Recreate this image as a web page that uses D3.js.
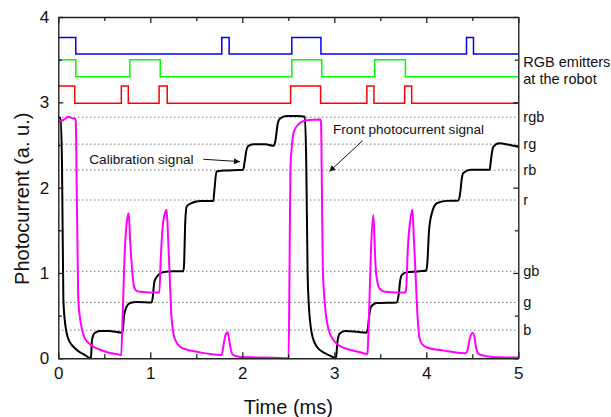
<!DOCTYPE html>
<html>
<head>
<meta charset="utf-8">
<script src="https://cdn.jsdelivr.net/npm/d3@7"></script>
<style>
body { margin: 0; background: #fff; }
text { font-family: "Liberation Sans", Arial, sans-serif; fill: #111; }
</style>
</head>
<body>
<script>
// calibration signal (black): [time ms, photocurrent]
var calibration = [
  [0, 2.82], [0.025, 2.82], [0.04, 2.3], [0.055, 0.7], [0.07, 0.45], [0.09, 0.3], [0.12, 0.2],
  [0.163, 0.136], [0.21, 0.09], [0.254, 0.059], [0.3, 0.03], [0.326, 0.012], [0.345, 0.0],
  [0.356, 0.02], [0.365, 0.2], [0.38, 0.27], [0.4, 0.3], [0.45, 0.32], [0.55, 0.32], [0.69, 0.3],
  [0.7, 0.32], [0.715, 0.5], [0.743, 0.605], [0.78, 0.648], [0.85, 0.66], [1.015, 0.655],
  [1.025, 0.7], [1.045, 0.9], [1.088, 0.977], [1.142, 1.01], [1.25, 1.02], [1.36, 1.02],
  [1.367, 1.1], [1.38, 1.6], [1.396, 1.78], [1.45, 1.82], [1.55, 1.845], [1.685, 1.845],
  [1.695, 1.95], [1.72, 2.19], [1.79, 2.2], [2.01, 2.21], [2.025, 2.3], [2.045, 2.44],
  [2.066, 2.49], [2.12, 2.51], [2.25, 2.51], [2.34, 2.49], [2.36, 2.55], [2.385, 2.75],
  [2.41, 2.81], [2.48, 2.84], [2.6, 2.84], [2.68, 2.83], [2.695, 2.3], [2.71, 1.0],
  [2.72, 0.683], [2.755, 0.293], [2.81, 0.136], [2.9, 0.059], [2.99, 0.012], [3.01, 0],
  [3.02, 0.02], [3.035, 0.2], [3.06, 0.29], [3.12, 0.32], [3.25, 0.31], [3.35, 0.3],
  [3.365, 0.35], [3.38, 0.5], [3.4, 0.605], [3.46, 0.648], [3.68, 0.655], [3.7, 0.75],
  [3.715, 0.9], [3.735, 0.977], [3.79, 1.01], [3.93, 1.02], [4.0, 1.03], [4.01, 1.1],
  [4.03, 1.5], [4.06, 1.7], [4.115, 1.817], [4.22, 1.845], [4.35, 1.85], [4.37, 1.95],
  [4.385, 2.1], [4.4, 2.17], [4.48, 2.21], [4.69, 2.21], [4.7, 2.3], [4.715, 2.42],
  [4.73, 2.48], [4.79, 2.52], [4.91, 2.5], [5.0, 2.48]
];

// front photocurrent signal (magenta)
var front = [
  [0, 2.77], [0.05, 2.79], [0.109, 2.83], [0.163, 2.81], [0.18, 2.81], [0.19, 2.78], [0.2, 2.0],
  [0.21, 1.2], [0.218, 0.68], [0.235, 0.48], [0.254, 0.36], [0.29, 0.23], [0.363, 0.15],
  [0.453, 0.1], [0.562, 0.063], [0.67, 0.04], [0.683, 0.035], [0.7, 0.5], [0.72, 1.2],
  [0.745, 1.6], [0.765, 1.7], [0.78, 1.4], [0.8, 1.07], [0.823, 0.84], [0.85, 0.79],
  [0.888, 0.78], [1.088, 0.77], [1.098, 0.77], [1.115, 1.2], [1.14, 1.6], [1.165, 1.72],
  [1.178, 1.74], [1.19, 1.5], [1.207, 1.07], [1.23, 0.49], [1.25, 0.3], [1.27, 0.22],
  [1.323, 0.136], [1.4, 0.1], [1.507, 0.077], [1.65, 0.05], [1.758, 0.038], [1.776, 0.04],
  [1.8, 0.18], [1.82, 0.28], [1.84, 0.305], [1.86, 0.2], [1.88, 0.08], [1.9, 0.04],
  [1.976, 0.016], [2.15, 0.01], [2.34, 0.006], [2.503, 0.0], [2.513, 1.0], [2.523, 2.2],
  [2.54, 2.5], [2.556, 2.64], [2.57, 2.68], [2.61, 2.74], [2.63, 2.76], [2.7, 2.79],
  [2.85, 2.8], [2.856, 2.75], [2.865, 2.0], [2.875, 1.07], [2.9, 0.605], [2.94, 0.33],
  [2.99, 0.215], [3.06, 0.144], [3.17, 0.1], [3.28, 0.07], [3.355, 0.05], [3.36, 0.06],
  [3.38, 0.6], [3.4, 1.3], [3.425, 1.68], [3.44, 1.3], [3.454, 1.0], [3.49, 0.82],
  [3.55, 0.78], [3.77, 0.77], [3.78, 0.8], [3.8, 1.3], [3.83, 1.65], [3.85, 1.74],
  [3.865, 1.4], [3.88, 1.07], [3.905, 0.49], [3.93, 0.22], [3.96, 0.16], [4.007, 0.127],
  [4.19, 0.09], [4.42, 0.06], [4.44, 0.07], [4.47, 0.22], [4.5, 0.3], [4.52, 0.27],
  [4.54, 0.13], [4.57, 0.05], [4.65, 0.025], [4.8, 0.012], [5.0, 0.008]
];

// RGB emitters at the robot: on-intervals (ms) and [low, high] trace levels
var blueOn = [[0, 0.19], [1.777, 1.857], [2.538, 2.855], [4.437, 4.513]];
var greenOn = [[0, 0.19], [0.778, 1.108], [2.538, 2.864], [3.439, 3.773]];
var redOn = [[0, 0.178], [0.685, 0.761], [1.096, 1.184], [2.525, 2.851], [3.354, 3.431], [3.765, 3.841]];
var blueLevels = [3.565, 3.76];
var greenLevels = [3.3, 3.5];
var redLevels = [2.99, 3.19];

// reference levels (dotted)
var levelNames = ["rgb", "rg", "rb", "r", "gb", "g", "b"];
var levelValues = [2.825, 2.51, 2.205, 1.855, 1.02, 0.655, 0.33];

var xTicks = [0, 1, 2, 3, 4, 5];
var yTicks = [0, 1, 2, 3, 4];
var xMinor = [0.5, 1.5, 2.5, 3.5, 4.5];
var yMinor = [0.5, 1.5, 2.5, 3.5];

var width = 611, height = 417;
var plotLeft = 58.3, plotRight = 518.3, plotTop = 17, plotBottom = 358.3;

var x = d3.scaleLinear().domain([0, 5]).range([plotLeft, plotRight]);
var y = d3.scaleLinear().domain([0, 4]).range([plotBottom, plotTop]);

var svg = d3.select("body").append("svg").attr("width", width).attr("height", height);

// dotted level lines
svg.selectAll("line.level").data(levelValues).enter().append("line")
    .attr("class", "level")
    .attr("x1", x(0)).attr("x2", x(5))
    .attr("y1", function(d){ return y(d) }).attr("y2", function(d){ return y(d) })
    .attr("stroke", "#333").attr("stroke-width", 1).attr("stroke-dasharray", "1,3");

svg.selectAll("text.level").data(levelValues).enter().append("text")
    .attr("class", "level")
    .attr("x", plotRight + 5)
    .attr("y", function(d){ return y(d) })
    .attr("dy", "0.35em")
    .style("font-size", "14.5px")
    .text(function(d, i){ return levelNames[i] });

// emitter traces as step signals
var stepPoints = function(intervals, levels) {
    var pts = [];
    var t = 0;
    intervals.forEach(function(iv){
        if (iv[0] > t) { pts.push([t, levels[0]]); }
        pts.push([iv[0], levels[1]]);
        pts.push([iv[1], levels[0]]);
        t = iv[1];
    });
    pts.push([5, levels[0]]);
    return pts;
}

var stepLine = d3.line().x(function(d){ return x(d[0]) }).y(function(d){ return y(d[1]) })
    .curve(d3.curveStepAfter);

var emitters = [
    {on: blueOn, levels: blueLevels, color: "#0000ff"},
    {on: greenOn, levels: greenLevels, color: "#00ff00"},
    {on: redOn, levels: redLevels, color: "#ff0000"}
];
emitters.forEach(function(e){
    svg.append("path")
        .attr("d", stepLine(stepPoints(e.on, e.levels)))
        .attr("fill", "none").attr("stroke", e.color).attr("stroke-width", 1.5);
});

// signals
var smooth = d3.line().x(function(d){ return x(d[0]) }).y(function(d){ return y(d[1]) })
    .curve(d3.curveMonotoneX);

svg.append("path").attr("d", smooth(calibration))
    .attr("fill", "none").attr("stroke", "#000").attr("stroke-width", 2);
svg.append("path").attr("d", smooth(front))
    .attr("fill", "none").attr("stroke", "#ff00ff").attr("stroke-width", 2);

// axes: ticks pointing inwards on all four sides
var styleAxis = function(g) {
    g.select(".domain").attr("stroke", "#222").attr("stroke-width", 1.4);
    g.selectAll(".tick line").attr("stroke", "#222").attr("stroke-width", 1.3);
    g.selectAll("text").style("font-size", "17px").style("font-family", "\"Liberation Sans\", Arial, sans-serif").attr("fill", "#111");
}
var noText = function(g) { g.selectAll("text").remove(); g.select(".domain").remove(); }

svg.append("g").attr("transform", "translate(0," + plotBottom + ")")
    .call(d3.axisBottom(x).tickValues(xTicks).tickFormat(d3.format("d")).tickSizeInner(-6).tickSizeOuter(0).tickPadding(9))
    .call(styleAxis);
svg.append("g").attr("transform", "translate(0," + plotBottom + ")")
    .call(d3.axisBottom(x).tickValues(xMinor).tickSize(-4)).call(noText).call(styleAxis);
svg.append("g").attr("transform", "translate(0," + plotTop + ")")
    .call(d3.axisTop(x).tickValues(xTicks).tickSizeInner(-6).tickSizeOuter(0).tickFormat(""))
    .call(styleAxis);
svg.append("g").attr("transform", "translate(0," + plotTop + ")")
    .call(d3.axisTop(x).tickValues(xMinor).tickSize(-4)).call(noText).call(styleAxis);

svg.append("g").attr("transform", "translate(" + plotLeft + ",0)")
    .call(d3.axisLeft(y).tickValues(yTicks).tickFormat(d3.format("d")).tickSizeInner(-5).tickSizeOuter(0).tickPadding(9))
    .call(styleAxis);
svg.append("g").attr("transform", "translate(" + plotLeft + ",0)")
    .call(d3.axisLeft(y).tickValues(yMinor).tickSize(-3.5)).call(noText).call(styleAxis);
svg.append("g").attr("transform", "translate(" + plotRight + ",0)")
    .call(d3.axisRight(y).tickValues(yTicks).tickSizeInner(-5).tickSizeOuter(0).tickFormat(""))
    .call(styleAxis);
svg.append("g").attr("transform", "translate(" + plotRight + ",0)")
    .call(d3.axisRight(y).tickValues(yMinor).tickSize(-3.5)).call(noText).call(styleAxis);

// axis titles
svg.append("text").attr("x", (plotLeft + plotRight) / 2).attr("y", 414)
    .attr("text-anchor", "middle").style("font-size", "20px").text("Time (ms)");
svg.append("text").attr("transform", "translate(29," + y(1.87) + ") rotate(-90)")
    .attr("text-anchor", "middle").style("font-size", "20px").text("Photocurrent (a. u.)");

// emitter caption
svg.append("text").attr("x", plotRight + 5).attr("y", 61.7).attr("dy", "0.35em")
    .style("font-size", "14.5px").text("RGB emitters");
svg.append("text").attr("x", plotRight + 5).attr("y", 79.3).attr("dy", "0.35em")
    .style("font-size", "14.5px").text("at the robot");

// annotations with arrows
svg.append("defs").append("marker")
    .attr("id", "arrow").attr("viewBox", "0 0 10 10").attr("refX", 10).attr("refY", 5)
    .attr("markerWidth", 9).attr("markerHeight", 6).attr("markerUnits", "userSpaceOnUse")
    .attr("orient", "auto")
    .append("path").attr("d", "M0,0L10,5L0,10z").attr("fill", "#111");

var notes = [
    {text: "Calibration signal", at: [0.337, 2.278], from: [1.576, 2.333], to: [1.975, 2.305]},
    {text: "Front photocurrent signal", at: [2.986, 2.63], from: [3.309, 2.551], to: [2.946, 2.188]}
];
notes.forEach(function(n){
    svg.append("text").attr("x", x(n.at[0])).attr("y", y(n.at[1]))
        .style("font-size", "13.6px").text(n.text);
    svg.append("line")
        .attr("x1", x(n.from[0])).attr("y1", y(n.from[1]))
        .attr("x2", x(n.to[0])).attr("y2", y(n.to[1]))
        .attr("stroke", "#111").attr("stroke-width", 1)
        .attr("marker-end", "url(#arrow)");
});
</script>
</body>
</html>
